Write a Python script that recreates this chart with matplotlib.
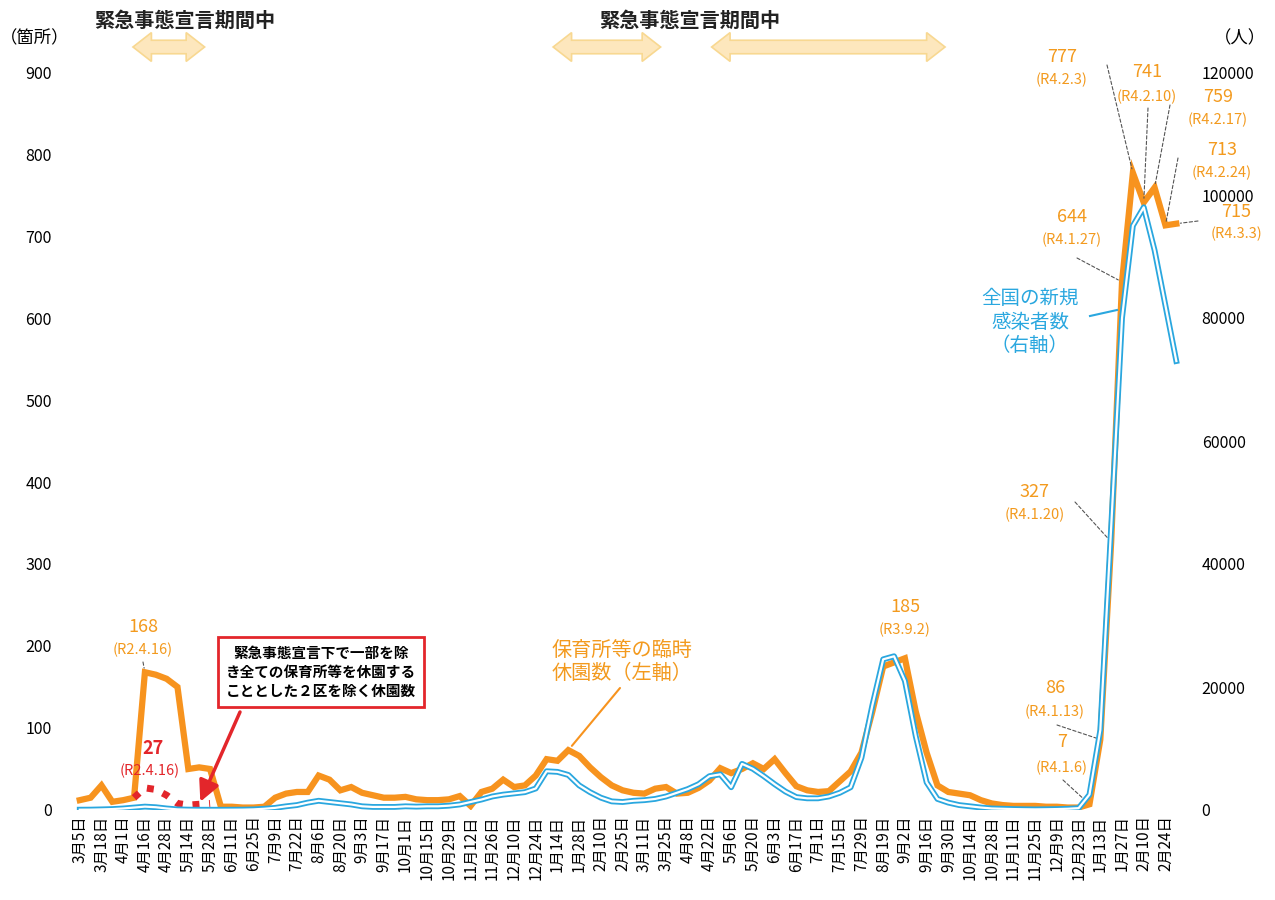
import matplotlib.pyplot as plt
import matplotlib.patches as mpatches
import matplotlib.transforms as mtransforms

plt.rcParams['font.family'] = ['Noto Sans CJK JP', 'DejaVu Sans']

# --- x軸ラベル（2週ごと） ---
tick_labels = ['3月5日', '3月18日', '4月1日', '4月16日', '4月28日', '5月14日', '5月28日',
               '6月11日', '6月25日', '7月9日', '7月22日', '8月6日', '8月20日', '9月3日',
               '9月17日', '10月1日', '10月15日', '10月29日', '11月12日', '11月26日',
               '12月10日', '12月24日', '1月14日', '1月28日', '2月10日', '2月25日',
               '3月11日', '3月25日', '4月8日', '4月22日', '5月6日', '5月20日', '6月3日',
               '6月17日', '7月1日', '7月15日', '7月29日', '8月19日', '9月2日', '9月16日',
               '9月30日', '10月14日', '10月28日', '11月11日', '11月25日', '12月9日',
               '12月23日', '1月13日', '1月27日', '2月10日', '2月24日']

# --- 保育所等の臨時休園数（左軸, 週ごと） ---
closures = [12, 15, 30, 10, 12, 15, 168, 165, 160, 150,
            50, 52, 50, 4, 4, 3, 3, 4, 15, 20,
            22, 22, 42, 37, 24, 28, 21, 18, 15, 15,
            16, 13, 12, 12, 13, 17, 5, 22, 26, 37,
            28, 30, 42, 62, 60, 73, 66, 52, 40, 30,
            24, 21, 20, 26, 28, 20, 21, 27, 36, 51,
            45, 50, 57, 50, 62, 45, 29, 24, 22, 23,
            35, 47, 70, 120, 175, 180, 185, 120, 70, 30,
            22, 20, 18, 12, 8, 6, 5, 5, 5, 4,
            4, 3, 3, 7, 86, 327, 644, 777, 741, 759,
            713, 715]

# --- 全国の新規感染者数（右軸） ---
cases = [50, 60, 100, 150, 250, 400, 550, 450, 250, 100,
         60, 40, 40, 40, 50, 60, 100, 200, 350, 600,
         800, 1200, 1500, 1300, 1100, 900, 600, 500, 500, 500,
         600, 550, 600, 600, 700, 900, 1300, 1700, 2200, 2500,
         2700, 2900, 3500, 6300, 6200, 5700, 4000, 2900, 2000, 1400,
         1300, 1500, 1600, 1800, 2200, 2800, 3400, 4200, 5500, 5800,
         3700, 7500, 6700, 5500, 4200, 3000, 2100, 1900, 1900, 2200,
         2800, 3700, 8500, 17000, 24500, 25000, 21000, 12000, 4500, 1800,
         1200, 800, 600, 400, 250, 200, 150, 120, 100, 120,
         150, 200, 300, 2500, 13000, 46000, 80000, 95000, 98000, 91000,
         82000, 73000]

# --- 2区を除く休園数（赤点線） ---
two_ward_idx = [5, 6, 7, 8, 9, 10, 11, 12]
two_ward_vals = [15, 27, 25, 18, 8, 6, 7, 8]

# 緊急事態宣言期間（x位置, 週インデックス）
emergency_spans = [(4.9, 11.5), (43.6, 53.5), (58.2, 79.7)]

x = list(range(len(closures)))

fig = plt.figure(figsize=(12.75, 9), dpi=100)
ax = fig.add_axes([70 / 1275, 90 / 900, 1115 / 1275, 738 / 900])
ax2 = ax.twinx()

orange = '#f7931e'
orange_txt = '#f39a1e'
blue = '#2aa7df'
red = '#e3262b'

ax.plot(x, closures, color=orange, lw=4.5, solid_joinstyle='miter', zorder=3)
ax.plot(two_ward_idx, two_ward_vals, color=red, lw=5, linestyle=(0, (1, 1.4)),
        dash_capstyle='butt', zorder=4)

ax2.plot(x, cases, color=blue, lw=4.2, zorder=3)
ax2.plot(x, cases, color='white', lw=1.6, zorder=4)

ax.set_xlim(-0.9, 101.8)
ax.set_ylim(0, 900)
ax2.set_ylim(0, 120000)

ax.set_yticks(range(0, 901, 100))
ax2.set_yticks(range(0, 120001, 20000))
ax.set_xticks(range(0, len(tick_labels) * 2, 2))
ax.set_xticklabels(tick_labels, rotation=90, fontsize=11, va='top')

ax.tick_params(axis='y', length=0, pad=13, labelsize=11.5)
ax2.tick_params(axis='y', length=0, pad=12, labelsize=11.5)
ax.tick_params(axis='x', length=0, pad=4)
for a in (ax, ax2):
    for s in a.spines.values():
        s.set_visible(False)

# 軸の単位
fig.text(35 / 1275, 1 - 38 / 900, '（箇所）', fontsize=12.5, ha='center', va='center')
fig.text(1240 / 1275, 1 - 38 / 900, '（人）', fontsize=12.5, ha='center', va='center')

# 緊急事態宣言期間の矢印
btrans = mtransforms.blended_transform_factory(ax.transData, fig.transFigure)
yc = 1 - 47 / 900
sh, hh, hl = 0.0075, 0.016, 1.7
for x0, x1 in emergency_spans:
    pts = [(x0, yc), (x0 + hl, yc + hh), (x0 + hl, yc + sh), (x1 - hl, yc + sh),
           (x1 - hl, yc + hh), (x1, yc), (x1 - hl, yc - hh), (x1 - hl, yc - sh),
           (x0 + hl, yc - sh), (x0 + hl, yc - hh)]
    fig.add_artist(mpatches.Polygon(pts, closed=True, transform=btrans,
                                    facecolor='#fde7bd', edgecolor='#f8d891', lw=1.2))
fig.text(185 / 1275, 1 - 20 / 900, '緊急事態宣言期間中', fontsize=14.5,
         fontweight='bold', ha='center', va='center', color='#222222')
fig.text(690 / 1275, 1 - 20 / 900, '緊急事態宣言期間中', fontsize=14.5,
         fontweight='bold', ha='center', va='center', color='#222222')

# ピーク値のラベル: (index, 日付, 文字中心x, 数値y, 日付y, 引出線開始)
peak_labels = [
    (6, '(R2.4.16)', 143, 627, 650, (143, 662)),
    (76, '(R3.9.2)', 905, 607, 630, None),
    (97, '(R4.2.3)', 1062, 57, 80, (1107, 65)),
    (98, '(R4.2.10)', 1147, 72, 97, (1148, 108)),
    (99, '(R4.2.17)', 1218, 97, 120, (1170, 105)),
    (100, '(R4.2.24)', 1222, 150, 173, (1178, 158)),
    (101, '(R4.3.3)', 1236, 212, 234, (1198, 221)),
    (96, '(R4.1.27)', 1072, 217, 240, (1077, 258)),
    (95, '(R4.1.20)', 1035, 492, 515, (1075, 502)),
    (94, '(R4.1.13)', 1055, 688, 712, (1057, 725)),
    (93, '(R4.1.6)', 1062, 742, 768, (1063, 780)),
]
for idx, date, tx, ny, dy, lead in peak_labels:
    fig.text(tx / 1275, 1 - ny / 900, str(closures[idx]), fontsize=13,
             color=orange_txt, ha='center', va='center', zorder=10)
    fig.text(tx / 1275, 1 - dy / 900, date, fontsize=10.5,
             color=orange_txt, ha='center', va='center', zorder=10)
    if lead is not None:
        ax.annotate('', xy=(idx, closures[idx]), xycoords='data',
                    xytext=(lead[0], 900 - lead[1]), textcoords='figure pixels',
                    arrowprops=dict(arrowstyle='-', color='#555555', lw=0.8,
                                    linestyle=(0, (3, 2)), shrinkA=0, shrinkB=3),
                    zorder=6)

# 赤: 2区を除く休園数のピーク
fig.text(153 / 1275, 1 - 748 / 900, str(two_ward_vals[1]), fontsize=13,
         color=red, ha='center', va='center', fontweight='bold')
fig.text(150 / 1275, 1 - 771 / 900, '(R2.4.16)', fontsize=10.5,
         color=red, ha='center', va='center')

# 赤枠の説明
fig.text(321 / 1275, 1 - 672 / 900,
         '緊急事態宣言下で一部を除\nき全ての保育所等を休園する\nこととした２区を除く休園数',
         fontsize=10.5, fontweight='bold', ha='center', va='center', linespacing=1.25,
         bbox=dict(boxstyle='square,pad=0.55', fc='white', ec=red, lw=2), zorder=10)
ax.annotate('', xy=(two_ward_idx[6], two_ward_vals[6]), xycoords='data',
            xytext=(240, 900 - 712), textcoords='figure pixels',
            arrowprops=dict(arrowstyle='-|>,head_length=0.9,head_width=0.45', color=red,
                            lw=2.5, shrinkA=0, shrinkB=2, mutation_scale=14), zorder=7)

# 系列ラベル
fig.text(622 / 1275, 1 - 662 / 900, '保育所等の臨時\n休園数（左軸）', fontsize=14.5,
         color=orange_txt, ha='center', va='center', linespacing=1.15)
ax.annotate('', xy=(45, closures[45]), xycoords='data',
            xytext=(620, 900 - 688), textcoords='figure pixels',
            arrowprops=dict(arrowstyle='-', color=orange, lw=1.5, shrinkA=0, shrinkB=4),
            zorder=6)

fig.text(1030 / 1275, 1 - 322 / 900, '全国の新規\n感染者数\n（右軸）', fontsize=14,
         color=blue, ha='center', va='center', linespacing=1.15)
fig.add_artist(plt.Line2D([1090 / 1275, 1117 / 1275], [1 - 316 / 900, 1 - 310 / 900],
                          color=blue, lw=1.5))

fig.savefig('out.png', dpi=100)
